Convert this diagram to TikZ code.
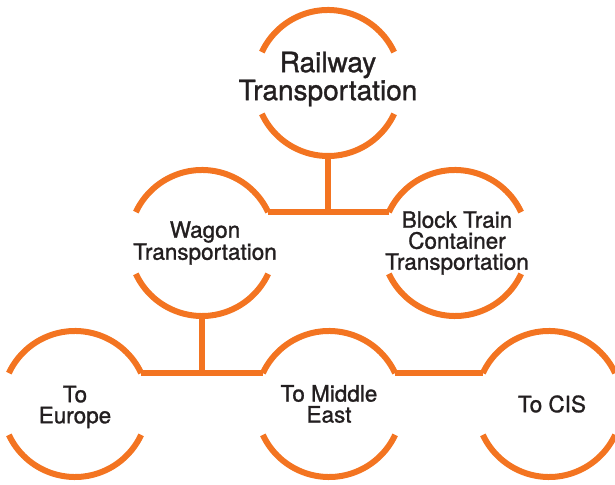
\documentclass[tikz,border=0pt]{standalone}
\usepackage{fontspec}
\setmainfont{TeX Gyre Heros}[FakeBold=1.2]
\definecolor{railorange}{RGB}{243,116,33}
\definecolor{railtext}{RGB}{35,31,32}

\begin{document}
\begin{tikzpicture}[x=1pt,y=1pt,
    ring/.style={circle, minimum size=146pt, inner sep=0pt, outer sep=0pt},
    link/.style={draw=railorange, line width=6pt},
    label/.style={align=center, inner sep=0pt, text=railtext, font=\fontsize{22.5}{21}\selectfont}]
      \useasboundingbox (0,0) rectangle (615,484);
      % circles
      \node[ring] (rail) at (328,401) {};
      \node[ring] (wagon) at (202,241) {};
      \node[ring] (block) at (455,241) {};
      \node[ring] (europe) at (75,80) {};
      \node[ring] (middle) at (329,80) {};
      \node[ring] (cis) at (549,80) {};

      % broken outlines
      \foreach \c in {rail,wagon,block,europe,middle,cis} {
        \draw[link] (\c.25) arc[start angle=25, end angle=155, radius=73pt];
        \draw[link] (\c.205) arc[start angle=205, end angle=335, radius=73pt];
      }

      % connectors
      \draw[link] (wagon.25) -- (block.155);
      \draw[link] (rail.south) -- (rail.south |- wagon.25);
      \draw[link] (europe.25) -- (middle.155);
      \draw[link] (middle.25) -- (cis.155);
      \draw[link] (wagon.south) -- (wagon.south |- europe.25);

      % labels
      \node[label, font=\fontsize{28}{28}\selectfont, yshift=4pt] (rail-t) at (rail) {Railway\\Transportation};
      \node[label, font=\fontsize{22.5}{22}\selectfont, xshift=3pt] (wagon-t) at (wagon) {Wagon\\Transportation};
      \node[label, xshift=2pt] (block-t) at (block) {Block Train\\Container\\Transportation};
      \node[label, yshift=-3pt] (europe-t) at (europe) {To\\Europe};
      \node[label] (middle-t) at (middle) {To Middle\\East};
      \node[label, xshift=3pt] (cis-t) at (cis) {To CIS};
\end{tikzpicture}
\end{document}
